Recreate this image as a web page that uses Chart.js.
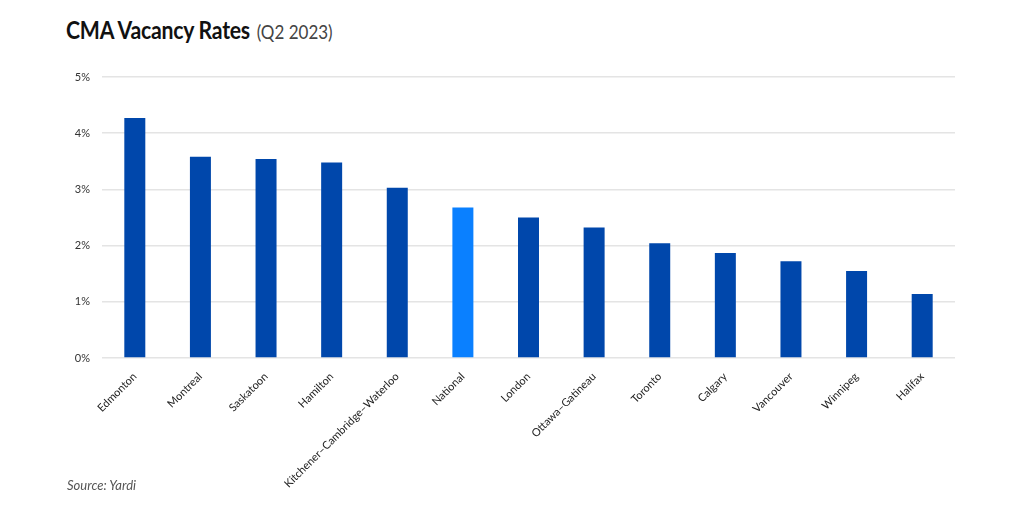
<!DOCTYPE html>
<html>
<head>
<meta charset="utf-8">
<script src="https://cdn.jsdelivr.net/npm/chart.js@4.4.0/dist/chart.umd.min.js"></script>
<style>
    body { margin: 0; background: #fff; }
    #wrap { position: relative; width: 1024px; height: 514px; overflow: hidden; }
    #title {
        position: absolute; left: 66px; top: 14px;
        font-family: Lato, sans-serif; color: #111; white-space: nowrap;
        transform: scaleX(0.85); transform-origin: left top;
    }
    #title b { font-size: 25px; font-weight: 700; letter-spacing: -0.3px; }
    #title span { font-size: 20px; color: #444; margin-left: 8px; }
    #source {
        position: absolute; left: 67px; top: 477px;
        font-family: Lato, sans-serif; font-style: italic; font-size: 13px; color: #555;
    }
    #chartBox { position: absolute; left: 0; top: 0; width: 1024px; height: 514px; }
</style>
</head>
<body>
<div id="wrap">
    <div id="title"><b>CMA Vacancy Rates</b><span>(Q2 2023)</span></div>
    <div id="chartBox"><canvas id="vacancyChart"></canvas></div>
    <div id="source">Source: Yardi</div>
</div>
<script>
const cities = ['Edmonton', 'Montreal', 'Saskatoon', 'Hamilton', 'Kitchener\u2013Cambridge\u2013Waterloo',
    'National', 'London', 'Ottawa\u2013Gatineau', 'Toronto', 'Calgary', 'Vancouver', 'Winnipeg', 'Halifax'];
const vacancyRates = [4.27, 3.58, 3.54, 3.48, 3.03, 2.68, 2.50, 2.32, 2.04, 1.87, 1.72, 1.55, 1.14];
const yTicks = [0, 1, 2, 3, 4, 5];

const cityBlue = '#0047AB';
const nationalBlue = '#0A80FF';

document.addEventListener('DOMContentLoaded', function() {
    const ctx = document.getElementById('vacancyChart').getContext('2d');
    new Chart(ctx, {
        type: 'bar',
        data: {
            labels: cities,
            datasets: [{
                data: vacancyRates,
                backgroundColor: cities.map(c => c === 'National' ? nationalBlue : cityBlue),
                barPercentage: 0.32,
                categoryPercentage: 1.0
            }]
        },
        options: {
            responsive: true,
            maintainAspectRatio: false,
            animation: false,
            layout: {
                padding: { left: 62, right: 69, top: 77, bottom: 26 }
            },
            plugins: {
                legend: { display: false },
                tooltip: { enabled: false }
            },
            scales: {
                x: {
                    grid: { display: false },
                    border: { display: false },
                    ticks: {
                        maxRotation: 45,
                        minRotation: 45,
                        autoSkip: false,
                        padding: 4,
                        color: '#222',
                        font: { family: 'Lato, sans-serif', size: 11 }
                    },
                    afterFit: function(scale) { scale.height = 130; }
                },
                y: {
                    min: 0,
                    max: 5,
                    afterBuildTicks: function(scale) {
                        scale.ticks = yTicks.map(v => ({ value: v }));
                    },
                    grid: { color: '#e4e4e4', lineWidth: 1.5, drawTicks: false },
                    border: { display: false },
                    ticks: {
                        padding: 12,
                        color: '#333',
                        font: { family: 'Lato, sans-serif', size: 11 },
                        callback: v => v + '%'
                    },
                    afterFit: function(scale) { scale.width = 40; }
                }
            }
        }
    });
});
</script>
</body>
</html>
